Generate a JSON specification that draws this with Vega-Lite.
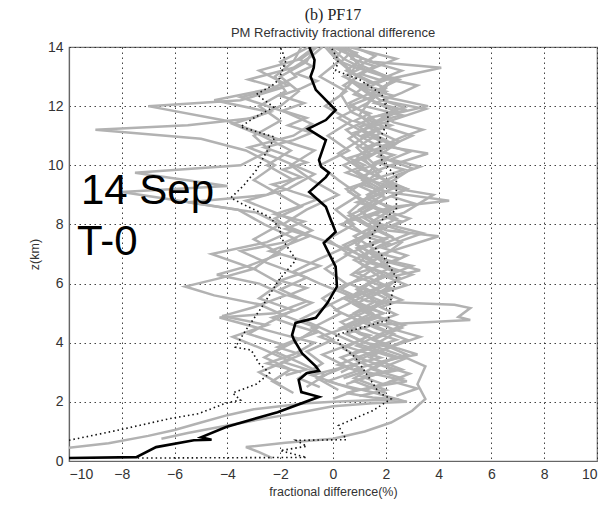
{
  "$schema": "https://vega.github.io/schema/vega-lite/v6.json",
  "width": 528,
  "height": 414,
  "autosize": "none",
  "padding": {"left": 69, "top": 47, "right": 11, "bottom": 47},
  "background": "white",
  "title": {
    "text": "(b) PF17\u00a0\u00a0\u00a0\u00a0\u00a0\u00a0\u00a0\u00a0\u00a0\u00a0\u00a0\u00a0",
    "subtitle": "PM Refractivity fractional difference",
    "font": "Liberation Serif",
    "fontSize": 16,
    "fontWeight": "normal",
    "color": "#222",
    "subtitleFont": "Liberation Sans",
    "subtitleFontSize": 13,
    "subtitleColor": "#333",
    "subtitlePadding": 4,
    "anchor": "middle",
    "offset": 0
  },
  "config": {
    "view": {"stroke": "#777", "strokeWidth": 1.2},
    "axis": {
      "gridColor": "#222",
      "gridDash": [1.5, 3.5],
      "gridOpacity": 0.85,
      "gridWidth": 1,
      "domainColor": "#666",
      "domainWidth": 1.2,
      "ticks": false,
      "labelFont": "Liberation Sans",
      "labelFontSize": 14,
      "labelColor": "#333",
      "titleFont": "Liberation Sans",
      "titleFontSize": 12.5,
      "titleFontWeight": "normal",
      "titleColor": "#333"
    }
  },
  "datasets": {
    "gray": [
      {"s":"g1","x":-10,"z":0.45},{"s":"g1","x":-8.5,"z":0.6},{"s":"g1","x":-7,"z":0.85},{"s":"g1","x":-6,"z":1.05},{"s":"g1","x":-5,"z":1.3},{"s":"g1","x":-4,"z":1.55},{"s":"g1","x":-3,"z":1.75},{"s":"g1","x":-2,"z":1.85},{"s":"g1","x":-1,"z":1.95},{"s":"g1","x":0,"z":2.0},{"s":"g1","x":1.2,"z":2.05},{"s":"g1","x":2.5,"z":2.08},{"s":"g1","x":1.5,"z":2.15},{"s":"g1","x":0.5,"z":2.3},{"s":"g1","x":1.5,"z":2.5},{"s":"g1","x":2.8,"z":2.7},{"s":"g1","x":1.8,"z":2.9},{"s":"g1","x":0.8,"z":3.1},{"s":"g1","x":2.0,"z":3.4},{"s":"g1","x":3.2,"z":3.6},{"s":"g1","x":2.5,"z":3.8},{"s":"g1","x":1.2,"z":4.0},{"s":"g1","x":0.5,"z":4.3},{"s":"g1","x":1.5,"z":4.6},{"s":"g1","x":0.8,"z":5.0},{"s":"g1","x":1.6,"z":5.4},{"s":"g1","x":0.9,"z":5.8},{"s":"g1","x":1.8,"z":6.2},{"s":"g1","x":1.0,"z":6.7},{"s":"g1","x":1.5,"z":7.2},{"s":"g1","x":0.8,"z":7.6},{"s":"g1","x":1.7,"z":8.0},{"s":"g1","x":1.0,"z":8.5},{"s":"g1","x":1.9,"z":9.0},{"s":"g1","x":1.1,"z":9.5},{"s":"g1","x":1.6,"z":10.0},{"s":"g1","x":0.9,"z":10.6},{"s":"g1","x":1.8,"z":11.1},{"s":"g1","x":1.0,"z":11.7},{"s":"g1","x":1.5,"z":12.3},{"s":"g1","x":0.6,"z":12.9},{"s":"g1","x":0.9,"z":13.5},{"s":"g1","x":0.3,"z":14.0},
      {"s":"g2","x":-6.5,"z":0.75},{"s":"g2","x":-5.5,"z":0.95},{"s":"g2","x":-4,"z":1.2},{"s":"g2","x":-2.5,"z":1.45},{"s":"g2","x":-1.2,"z":1.65},{"s":"g2","x":0,"z":1.85},{"s":"g2","x":1.5,"z":1.95},{"s":"g2","x":2.8,"z":2.0},{"s":"g2","x":1.6,"z":2.3},{"s":"g2","x":0.2,"z":2.6},{"s":"g2","x":-0.8,"z":2.9},{"s":"g2","x":0.5,"z":3.2},{"s":"g2","x":1.8,"z":3.5},{"s":"g2","x":0.4,"z":3.9},{"s":"g2","x":-0.5,"z":4.2},{"s":"g2","x":0.8,"z":4.6},{"s":"g2","x":1.9,"z":5.0},{"s":"g2","x":0.6,"z":5.5},{"s":"g2","x":1.4,"z":6.0},{"s":"g2","x":2.3,"z":6.4},{"s":"g2","x":1.1,"z":6.9},{"s":"g2","x":0.4,"z":7.3},{"s":"g2","x":1.6,"z":7.8},{"s":"g2","x":2.4,"z":8.2},{"s":"g2","x":1.2,"z":8.7},{"s":"g2","x":0.5,"z":9.2},{"s":"g2","x":1.8,"z":9.6},{"s":"g2","x":1.2,"z":10.2},{"s":"g2","x":2.2,"z":10.7},{"s":"g2","x":1.0,"z":11.2},{"s":"g2","x":0.2,"z":11.6},{"s":"g2","x":1.3,"z":12.1},{"s":"g2","x":2.0,"z":12.6},{"s":"g2","x":0.8,"z":13.1},{"s":"g2","x":0.2,"z":13.6},{"s":"g2","x":-0.2,"z":14.0},
      {"s":"g3","x":-2.3,"z":0.1},{"s":"g3","x":-2.8,"z":0.3},{"s":"g3","x":-3.3,"z":0.47},{"s":"g3","x":-1.8,"z":0.62},{"s":"g3","x":0,"z":0.75},{"s":"g3","x":1.2,"z":1.0},{"s":"g3","x":2.2,"z":1.3},{"s":"g3","x":3.0,"z":1.7},{"s":"g3","x":3.5,"z":2.1},{"s":"g3","x":3.2,"z":2.6},{"s":"g3","x":3.5,"z":3.2},{"s":"g3","x":2.5,"z":3.6},{"s":"g3","x":1.5,"z":3.9},{"s":"g3","x":2.3,"z":4.3},{"s":"g3","x":1.5,"z":4.6},{"s":"g3","x":5.2,"z":4.77},{"s":"g3","x":4.75,"z":4.87},{"s":"g3","x":5.2,"z":5.17},{"s":"g3","x":4.6,"z":5.28},{"s":"g3","x":1.3,"z":5.4},{"s":"g3","x":0.3,"z":5.8},{"s":"g3","x":1.2,"z":6.3},{"s":"g3","x":2.0,"z":6.8},{"s":"g3","x":0.9,"z":7.3},{"s":"g3","x":1.5,"z":7.9},{"s":"g3","x":0.6,"z":8.4},{"s":"g3","x":1.4,"z":9.0},{"s":"g3","x":2.2,"z":9.4},{"s":"g3","x":1.0,"z":9.9},{"s":"g3","x":0.2,"z":10.4},{"s":"g3","x":1.1,"z":10.9},{"s":"g3","x":1.9,"z":11.3},{"s":"g3","x":0.7,"z":11.8},{"s":"g3","x":0.3,"z":12.4},{"s":"g3","x":0.9,"z":13.0},{"s":"g3","x":0.1,"z":13.6},{"s":"g3","x":0.4,"z":14.0},
      {"s":"g4","x":-1.5,"z":2.3},{"s":"g4","x":-2.3,"z":2.7},{"s":"g4","x":-1.6,"z":3.1},{"s":"g4","x":-2.6,"z":3.5},{"s":"g4","x":-1.8,"z":3.9},{"s":"g4","x":-3.2,"z":4.3},{"s":"g4","x":-2.4,"z":4.7},{"s":"g4","x":-1.5,"z":5.1},{"s":"g4","x":-2.8,"z":5.5},{"s":"g4","x":-2.0,"z":6.0},{"s":"g4","x":-3.0,"z":6.5},{"s":"g4","x":-2.2,"z":7.0},{"s":"g4","x":-1.4,"z":7.5},{"s":"g4","x":-2.6,"z":8.0},{"s":"g4","x":-3.6,"z":8.5},{"s":"g4","x":-8.0,"z":9.1},{"s":"g4","x":-4.0,"z":9.3},{"s":"g4","x":-7.5,"z":9.75},{"s":"g4","x":-3.5,"z":10.0},{"s":"g4","x":-2.4,"z":10.5},{"s":"g4","x":-3.0,"z":11.0},{"s":"g4","x":-2.0,"z":11.5},{"s":"g4","x":-2.8,"z":12.0},{"s":"g4","x":-1.8,"z":12.5},{"s":"g4","x":-2.2,"z":13.0},{"s":"g4","x":-1.5,"z":13.5},{"s":"g4","x":-1.2,"z":14.0},
      {"s":"g5","x":-1.0,"z":2.5},{"s":"g5","x":-0.3,"z":2.9},{"s":"g5","x":-1.2,"z":3.3},{"s":"g5","x":-2.2,"z":3.7},{"s":"g5","x":-1.3,"z":4.1},{"s":"g5","x":-0.6,"z":4.5},{"s":"g5","x":-1.8,"z":4.9},{"s":"g5","x":-2.8,"z":5.3},{"s":"g5","x":-4.5,"z":5.6},{"s":"g5","x":-5.6,"z":5.9},{"s":"g5","x":-4.2,"z":6.2},{"s":"g5","x":-3.0,"z":6.5},{"s":"g5","x":-4.6,"z":7.0},{"s":"g5","x":-2.5,"z":7.4},{"s":"g5","x":-1.5,"z":7.8},{"s":"g5","x":-2.2,"z":8.2},{"s":"g5","x":-1.2,"z":8.6},{"s":"g5","x":-2.0,"z":9.0},{"s":"g5","x":-3.0,"z":9.5},{"s":"g5","x":-2.2,"z":10.0},{"s":"g5","x":-3.3,"z":10.5},{"s":"g5","x":-5.0,"z":10.9},{"s":"g5","x":-9.0,"z":11.2},{"s":"g5","x":-5.5,"z":11.35},{"s":"g5","x":-3.0,"z":11.6},{"s":"g5","x":-2.0,"z":12.0},{"s":"g5","x":-1.3,"z":12.5},{"s":"g5","x":-2.0,"z":13.0},{"s":"g5","x":-1.0,"z":13.5},{"s":"g5","x":-0.7,"z":14.0},
      {"s":"g6","x":0.2,"z":2.4},{"s":"g6","x":-0.6,"z":2.8},{"s":"g6","x":0.5,"z":3.2},{"s":"g6","x":-0.4,"z":3.6},{"s":"g6","x":0.8,"z":4.0},{"s":"g6","x":-0.2,"z":4.4},{"s":"g6","x":-1.2,"z":4.8},{"s":"g6","x":-0.3,"z":5.2},{"s":"g6","x":0.6,"z":5.6},{"s":"g6","x":-0.5,"z":6.0},{"s":"g6","x":-1.5,"z":6.4},{"s":"g6","x":-0.6,"z":6.8},{"s":"g6","x":0.4,"z":7.2},{"s":"g6","x":-0.8,"z":7.6},{"s":"g6","x":-1.9,"z":8.0},{"s":"g6","x":-1.0,"z":8.5},{"s":"g6","x":0.2,"z":9.0},{"s":"g6","x":-0.8,"z":9.5},{"s":"g6","x":-1.6,"z":10.0},{"s":"g6","x":-0.7,"z":10.5},{"s":"g6","x":-2.5,"z":11.0},{"s":"g6","x":-4.0,"z":11.5},{"s":"g6","x":-7.0,"z":12.0},{"s":"g6","x":-3.5,"z":12.2},{"s":"g6","x":-2.0,"z":12.6},{"s":"g6","x":-3.2,"z":12.9},{"s":"g6","x":-1.5,"z":13.3},{"s":"g6","x":-0.8,"z":13.7},{"s":"g6","x":-0.4,"z":14.0},
      {"s":"g7","x":0.5,"z":2.6},{"s":"g7","x":1.5,"z":2.9},{"s":"g7","x":2.6,"z":3.1},{"s":"g7","x":1.4,"z":3.5},{"s":"g7","x":2.2,"z":3.9},{"s":"g7","x":1.0,"z":4.3},{"s":"g7","x":0.3,"z":4.7},{"s":"g7","x":1.4,"z":5.1},{"s":"g7","x":2.2,"z":5.5},{"s":"g7","x":1.3,"z":6.0},{"s":"g7","x":3.0,"z":6.6},{"s":"g7","x":1.5,"z":6.9},{"s":"g7","x":4.0,"z":7.6},{"s":"g7","x":2.0,"z":7.8},{"s":"g7","x":1.2,"z":8.2},{"s":"g7","x":2.3,"z":8.6},{"s":"g7","x":4.4,"z":8.8},{"s":"g7","x":2.0,"z":9.1},{"s":"g7","x":1.0,"z":9.6},{"s":"g7","x":2.2,"z":10.0},{"s":"g7","x":3.6,"z":10.4},{"s":"g7","x":1.6,"z":10.7},{"s":"g7","x":0.8,"z":11.1},{"s":"g7","x":3.5,"z":11.9},{"s":"g7","x":1.8,"z":12.2},{"s":"g7","x":1.0,"z":12.7},{"s":"g7","x":4.1,"z":13.3},{"s":"g7","x":1.5,"z":13.5},{"s":"g7","x":0.5,"z":13.8},{"s":"g7","x":0.1,"z":14.0},
      {"s":"g8","x":1.0,"z":2.2},{"s":"g8","x":2.0,"z":2.4},{"s":"g8","x":0.8,"z":2.8},{"s":"g8","x":1.8,"z":3.3},{"s":"g8","x":2.8,"z":3.6},{"s":"g8","x":1.5,"z":4.1},{"s":"g8","x":2.6,"z":4.5},{"s":"g8","x":1.6,"z":4.9},{"s":"g8","x":0.8,"z":5.3},{"s":"g8","x":1.8,"z":5.7},{"s":"g8","x":2.5,"z":6.2},{"s":"g8","x":1.2,"z":6.6},{"s":"g8","x":2.0,"z":7.0},{"s":"g8","x":2.6,"z":7.4},{"s":"g8","x":1.4,"z":7.9},{"s":"g8","x":0.6,"z":8.3},{"s":"g8","x":1.8,"z":8.8},{"s":"g8","x":2.8,"z":9.2},{"s":"g8","x":1.5,"z":9.7},{"s":"g8","x":0.8,"z":10.1},{"s":"g8","x":2.0,"z":10.6},{"s":"g8","x":3.0,"z":11.0},{"s":"g8","x":1.6,"z":11.4},{"s":"g8","x":2.4,"z":11.8},{"s":"g8","x":1.2,"z":12.3},{"s":"g8","x":0.4,"z":12.7},{"s":"g8","x":1.3,"z":13.2},{"s":"g8","x":2.4,"z":13.6},{"s":"g8","x":0.6,"z":14.0},
      {"s":"g9","x":-0.5,"z":2.5},{"s":"g9","x":-1.3,"z":2.8},{"s":"g9","x":-0.4,"z":3.3},{"s":"g9","x":-1.0,"z":3.7},{"s":"g9","x":0.0,"z":4.1},{"s":"g9","x":-0.8,"z":4.5},{"s":"g9","x":0.3,"z":5.0},{"s":"g9","x":-0.4,"z":5.5},{"s":"g9","x":0.5,"z":6.0},{"s":"g9","x":-0.3,"z":6.5},{"s":"g9","x":0.6,"z":7.0},{"s":"g9","x":-0.2,"z":7.5},{"s":"g9","x":0.8,"z":8.0},{"s":"g9","x":0.1,"z":8.5},{"s":"g9","x":1.0,"z":9.0},{"s":"g9","x":0.2,"z":9.5},{"s":"g9","x":-0.5,"z":10.0},{"s":"g9","x":0.6,"z":10.5},{"s":"g9","x":-0.2,"z":11.0},{"s":"g9","x":0.7,"z":11.5},{"s":"g9","x":-0.3,"z":12.0},{"s":"g9","x":0.5,"z":12.5},{"s":"g9","x":-0.5,"z":13.0},{"s":"g9","x":0.2,"z":13.5},{"s":"g9","x":-0.3,"z":14.0},
      {"s":"g10","x":2.0,"z":2.3},{"s":"g10","x":0.8,"z":2.7},{"s":"g10","x":1.9,"z":3.0},{"s":"g10","x":0.9,"z":3.4},{"s":"g10","x":2.0,"z":3.8},{"s":"g10","x":2.8,"z":4.1},{"s":"g10","x":1.6,"z":4.5},{"s":"g10","x":0.6,"z":4.9},{"s":"g10","x":1.7,"z":5.3},{"s":"g10","x":1.0,"z":5.8},{"s":"g10","x":1.9,"z":6.3},{"s":"g10","x":0.8,"z":6.8},{"s":"g10","x":1.8,"z":7.3},{"s":"g10","x":2.9,"z":7.7},{"s":"g10","x":1.5,"z":8.1},{"s":"g10","x":2.2,"z":8.5},{"s":"g10","x":1.3,"z":9.0},{"s":"g10","x":2.3,"z":9.5},{"s":"g10","x":3.0,"z":9.9},{"s":"g10","x":1.7,"z":10.3},{"s":"g10","x":2.5,"z":10.8},{"s":"g10","x":1.3,"z":11.3},{"s":"g10","x":2.1,"z":11.7},{"s":"g10","x":3.6,"z":12.0},{"s":"g10","x":1.5,"z":12.4},{"s":"g10","x":2.3,"z":12.9},{"s":"g10","x":1.0,"z":13.4},{"s":"g10","x":0.3,"z":14.0},
      {"s":"g11","x":-2.0,"z":2.6},{"s":"g11","x":-2.8,"z":3.0},{"s":"g11","x":-1.7,"z":3.4},{"s":"g11","x":-2.7,"z":3.8},{"s":"g11","x":-3.8,"z":4.2},{"s":"g11","x":-2.5,"z":4.6},{"s":"g11","x":-4.2,"z":4.9},{"s":"g11","x":-3.0,"z":5.2},{"s":"g11","x":-1.8,"z":5.6},{"s":"g11","x":-2.8,"z":6.0},{"s":"g11","x":-4.4,"z":6.3},{"s":"g11","x":-3.2,"z":6.6},{"s":"g11","x":-2.0,"z":7.0},{"s":"g11","x":-3.0,"z":7.5},{"s":"g11","x":-2.0,"z":8.0},{"s":"g11","x":-2.9,"z":8.4},{"s":"g11","x":-5.5,"z":8.75},{"s":"g11","x":-2.5,"z":9.0},{"s":"g11","x":-1.5,"z":9.5},{"s":"g11","x":-2.5,"z":10.0},{"s":"g11","x":-1.6,"z":10.5},{"s":"g11","x":-2.7,"z":11.0},{"s":"g11","x":-3.8,"z":11.4},{"s":"g11","x":-2.4,"z":11.8},{"s":"g11","x":-4.5,"z":12.2},{"s":"g11","x":-2.3,"z":12.6},{"s":"g11","x":-1.4,"z":13.0},{"s":"g11","x":-2.0,"z":13.5},{"s":"g11","x":-0.9,"z":14.0},
      {"s":"g12","x":1.5,"z":2.5},{"s":"g12","x":2.6,"z":2.8},{"s":"g12","x":1.5,"z":3.1},{"s":"g12","x":2.3,"z":3.5},{"s":"g12","x":0.9,"z":3.9},{"s":"g12","x":1.8,"z":4.3},{"s":"g12","x":2.7,"z":4.6},{"s":"g12","x":1.3,"z":5.0},{"s":"g12","x":2.0,"z":5.5},{"s":"g12","x":1.1,"z":5.9},{"s":"g12","x":2.4,"z":6.4},{"s":"g12","x":1.6,"z":6.9},{"s":"g12","x":0.8,"z":7.4},{"s":"g12","x":1.9,"z":7.9},{"s":"g12","x":1.1,"z":8.4},{"s":"g12","x":2.0,"z":8.9},{"s":"g12","x":1.0,"z":9.3},{"s":"g12","x":1.8,"z":9.8},{"s":"g12","x":0.9,"z":10.3},{"s":"g12","x":1.8,"z":10.8},{"s":"g12","x":1.0,"z":11.3},{"s":"g12","x":2.6,"z":11.7},{"s":"g12","x":1.2,"z":12.0},{"s":"g12","x":1.8,"z":12.5},{"s":"g12","x":2.3,"z":12.9},{"s":"g12","x":0.9,"z":13.3},{"s":"g12","x":1.6,"z":13.7},{"s":"g12","x":0.8,"z":14.0},
      {"s":"g13","x":0.3,"z":3.0},{"s":"g13","x":1.2,"z":3.4},{"s":"g13","x":0.4,"z":3.8},{"s":"g13","x":1.3,"z":4.2},{"s":"g13","x":0.5,"z":4.6},{"s":"g13","x":1.5,"z":5.0},{"s":"g13","x":0.7,"z":5.5},{"s":"g13","x":1.8,"z":5.9},{"s":"g13","x":3.0,"z":6.3},{"s":"g13","x":1.6,"z":6.7},{"s":"g13","x":0.9,"z":7.2},{"s":"g13","x":2.2,"z":7.6},{"s":"g13","x":1.3,"z":8.0},{"s":"g13","x":2.7,"z":8.4},{"s":"g13","x":3.8,"z":9.0},{"s":"g13","x":1.8,"z":9.3},{"s":"g13","x":0.9,"z":9.8},{"s":"g13","x":2.1,"z":10.2},{"s":"g13","x":1.2,"z":10.7},{"s":"g13","x":0.5,"z":11.2},{"s":"g13","x":1.5,"z":11.6},{"s":"g13","x":0.6,"z":12.1},{"s":"g13","x":1.8,"z":12.6},{"s":"g13","x":2.5,"z":12.9},{"s":"g13","x":1.3,"z":13.2},{"s":"g13","x":0.4,"z":13.6},{"s":"g13","x":-0.1,"z":14.0},
      {"s":"g14","x":-1.2,"z":3.0},{"s":"g14","x":-2.5,"z":3.3},{"s":"g14","x":-1.5,"z":3.6},{"s":"g14","x":-0.7,"z":4.0},{"s":"g14","x":-2.0,"z":4.3},{"s":"g14","x":-4.3,"z":4.85},{"s":"g14","x":-2.2,"z":5.0},{"s":"g14","x":-1.0,"z":5.4},{"s":"g14","x":-2.0,"z":5.8},{"s":"g14","x":-1.0,"z":6.2},{"s":"g14","x":-2.5,"z":6.7},{"s":"g14","x":-3.5,"z":7.1},{"s":"g14","x":-1.8,"z":7.4},{"s":"g14","x":-0.8,"z":7.8},{"s":"g14","x":-1.9,"z":8.3},{"s":"g14","x":-3.3,"z":8.8},{"s":"g14","x":-1.7,"z":9.2},{"s":"g14","x":-0.7,"z":9.7},{"s":"g14","x":-2.0,"z":10.2},{"s":"g14","x":-3.2,"z":10.6},{"s":"g14","x":-1.5,"z":11.0},{"s":"g14","x":-0.8,"z":11.4},{"s":"g14","x":-1.8,"z":11.8},{"s":"g14","x":-3.5,"z":12.3},{"s":"g14","x":-1.7,"z":12.7},{"s":"g14","x":-2.8,"z":13.2},{"s":"g14","x":-1.2,"z":13.6},{"s":"g14","x":-0.6,"z":14.0},
      {"s":"g15","x":0.0,"z":2.1},{"s":"g15","x":0.9,"z":2.4},{"s":"g15","x":-0.2,"z":2.7},{"s":"g15","x":1.1,"z":3.1},{"s":"g15","x":0.3,"z":3.5},{"s":"g15","x":1.5,"z":3.9},{"s":"g15","x":0.5,"z":4.3},{"s":"g15","x":1.1,"z":4.7},{"s":"g15","x":0.1,"z":5.1},{"s":"g15","x":1.0,"z":5.5},{"s":"g15","x":1.9,"z":5.9},{"s":"g15","x":0.7,"z":6.3},{"s":"g15","x":1.5,"z":6.8},{"s":"g15","x":0.4,"z":7.2},{"s":"g15","x":1.3,"z":7.6},{"s":"g15","x":0.5,"z":8.1},{"s":"g15","x":1.6,"z":8.6},{"s":"g15","x":0.6,"z":9.1},{"s":"g15","x":1.3,"z":9.5},{"s":"g15","x":0.4,"z":10.0},{"s":"g15","x":1.4,"z":10.4},{"s":"g15","x":0.6,"z":10.9},{"s":"g15","x":1.5,"z":11.4},{"s":"g15","x":2.4,"z":11.9},{"s":"g15","x":0.8,"z":12.4},{"s":"g15","x":1.4,"z":12.8},{"s":"g15","x":0.5,"z":13.2},{"s":"g15","x":1.1,"z":13.6},{"s":"g15","x":0.5,"z":14.0},
      {"s":"g16","x":1.2,"z":2.4},{"s":"g16","x":1.9,"z":2.6},{"s":"g16","x":1.1,"z":2.85},{"s":"g16","x":2.3,"z":3.1},{"s":"g16","x":1.4,"z":3.35},{"s":"g16","x":0.7,"z":3.6},{"s":"g16","x":1.6,"z":3.85},{"s":"g16","x":2.4,"z":4.1},{"s":"g16","x":1.5,"z":4.35},{"s":"g16","x":0.9,"z":4.6},{"s":"g16","x":1.7,"z":4.85},{"s":"g16","x":1.1,"z":5.1},{"s":"g16","x":2.0,"z":5.35},{"s":"g16","x":1.3,"z":5.6},{"s":"g16","x":2.2,"z":5.85},{"s":"g16","x":1.6,"z":6.1},{"s":"g16","x":0.9,"z":6.35},{"s":"g16","x":1.8,"z":6.6},{"s":"g16","x":2.5,"z":6.85},{"s":"g16","x":1.4,"z":7.1},{"s":"g16","x":2.1,"z":7.35},{"s":"g16","x":1.2,"z":7.6},{"s":"g16","x":1.9,"z":7.85},{"s":"g16","x":2.6,"z":8.1},{"s":"g16","x":1.5,"z":8.35},{"s":"g16","x":2.2,"z":8.6},{"s":"g16","x":1.3,"z":8.85},{"s":"g16","x":2.0,"z":9.1},{"s":"g16","x":1.1,"z":9.35},{"s":"g16","x":1.8,"z":9.6},{"s":"g16","x":2.7,"z":9.85},{"s":"g16","x":1.6,"z":10.1},{"s":"g16","x":2.3,"z":10.35},{"s":"g16","x":1.2,"z":10.6},{"s":"g16","x":2.0,"z":10.85},{"s":"g16","x":1.4,"z":11.1},{"s":"g16","x":2.2,"z":11.35},{"s":"g16","x":1.3,"z":11.6},{"s":"g16","x":2.8,"z":11.85},{"s":"g16","x":1.6,"z":12.1},{"s":"g16","x":2.3,"z":12.35},{"s":"g16","x":1.2,"z":12.6},{"s":"g16","x":1.9,"z":12.85},{"s":"g16","x":1.0,"z":13.1},{"s":"g16","x":1.6,"z":13.35},{"s":"g16","x":0.7,"z":13.6},{"s":"g16","x":0.9,"z":13.8},{"s":"g16","x":0.2,"z":14.0},
      {"s":"g17","x":0.4,"z":2.8},{"s":"g17","x":1.1,"z":3.0},{"s":"g17","x":0.2,"z":3.25},{"s":"g17","x":0.9,"z":3.5},{"s":"g17","x":1.7,"z":3.75},{"s":"g17","x":0.8,"z":4.0},{"s":"g17","x":1.4,"z":4.25},{"s":"g17","x":0.3,"z":4.5},{"s":"g17","x":1.0,"z":4.75},{"s":"g17","x":1.9,"z":5.0},{"s":"g17","x":1.0,"z":5.25},{"s":"g17","x":0.4,"z":5.5},{"s":"g17","x":1.3,"z":5.75},{"s":"g17","x":0.6,"z":6.0},{"s":"g17","x":1.5,"z":6.25},{"s":"g17","x":2.1,"z":6.5},{"s":"g17","x":1.2,"z":6.75},{"s":"g17","x":0.5,"z":7.0},{"s":"g17","x":1.3,"z":7.25},{"s":"g17","x":2.0,"z":7.5},{"s":"g17","x":1.0,"z":7.75},{"s":"g17","x":0.3,"z":8.0},{"s":"g17","x":1.1,"z":8.25},{"s":"g17","x":1.9,"z":8.5},{"s":"g17","x":0.9,"z":8.75},{"s":"g17","x":1.6,"z":9.0},{"s":"g17","x":2.4,"z":9.25},{"s":"g17","x":1.3,"z":9.5},{"s":"g17","x":0.5,"z":9.75},{"s":"g17","x":1.2,"z":10.0},{"s":"g17","x":0.6,"z":10.25},{"s":"g17","x":1.5,"z":10.5},{"s":"g17","x":2.3,"z":10.75},{"s":"g17","x":1.1,"z":11.0},{"s":"g17","x":1.7,"z":11.25},{"s":"g17","x":0.8,"z":11.5},{"s":"g17","x":1.4,"z":11.75},{"s":"g17","x":0.6,"z":12.0},{"s":"g17","x":1.3,"z":12.25},{"s":"g17","x":2.0,"z":12.5},{"s":"g17","x":1.0,"z":12.75},{"s":"g17","x":0.4,"z":13.0},{"s":"g17","x":1.0,"z":13.25},{"s":"g17","x":0.3,"z":13.5},{"s":"g17","x":0.6,"z":13.75},{"s":"g17","x":0.0,"z":14.0},
      {"s":"g18","x":-1.8,"z":2.9},{"s":"g18","x":-1.0,"z":3.1},{"s":"g18","x":-1.9,"z":3.35},{"s":"g18","x":-1.2,"z":3.6},{"s":"g18","x":-2.1,"z":3.85},{"s":"g18","x":-1.4,"z":4.1},{"s":"g18","x":-0.6,"z":4.35},{"s":"g18","x":-1.5,"z":4.6},{"s":"g18","x":-2.3,"z":4.85},{"s":"g18","x":-1.4,"z":5.1},{"s":"g18","x":-0.8,"z":5.35},{"s":"g18","x":-1.7,"z":5.6},{"s":"g18","x":-1.0,"z":5.85},{"s":"g18","x":-2.0,"z":6.1},{"s":"g18","x":-1.2,"z":6.35},{"s":"g18","x":-0.5,"z":6.6},{"s":"g18","x":-1.4,"z":6.85},{"s":"g18","x":-2.4,"z":7.1},{"s":"g18","x":-1.6,"z":7.35},{"s":"g18","x":-0.9,"z":7.6},{"s":"g18","x":-1.8,"z":7.85},{"s":"g18","x":-1.1,"z":8.1},{"s":"g18","x":-2.2,"z":8.35},{"s":"g18","x":-1.3,"z":8.6},{"s":"g18","x":-0.6,"z":8.85},{"s":"g18","x":-1.5,"z":9.1},{"s":"g18","x":-2.3,"z":9.35},{"s":"g18","x":-1.2,"z":9.6},{"s":"g18","x":-1.9,"z":9.85},{"s":"g18","x":-1.0,"z":10.1},{"s":"g18","x":-1.8,"z":10.35},{"s":"g18","x":-2.6,"z":10.6},{"s":"g18","x":-1.5,"z":10.85},{"s":"g18","x":-0.8,"z":11.1},{"s":"g18","x":-1.7,"z":11.35},{"s":"g18","x":-1.0,"z":11.6},{"s":"g18","x":-1.9,"z":11.85},{"s":"g18","x":-1.1,"z":12.1},{"s":"g18","x":-2.0,"z":12.35},{"s":"g18","x":-1.2,"z":12.6},{"s":"g18","x":-0.6,"z":12.85},{"s":"g18","x":-1.4,"z":13.1},{"s":"g18","x":-0.8,"z":13.35},{"s":"g18","x":-1.3,"z":13.6},{"s":"g18","x":-0.7,"z":14.0},
      {"s":"g19","x":2.4,"z":2.2},{"s":"g19","x":3.2,"z":2.45},{"s":"g19","x":2.2,"z":2.7},{"s":"g19","x":2.9,"z":2.95},{"s":"g19","x":2.0,"z":3.2},{"s":"g19","x":2.7,"z":3.45},{"s":"g19","x":1.8,"z":3.7},{"s":"g19","x":2.5,"z":3.95},{"s":"g19","x":3.3,"z":4.2},{"s":"g19","x":2.3,"z":4.45},{"s":"g19","x":1.6,"z":4.7},{"s":"g19","x":2.4,"z":4.95},{"s":"g19","x":1.8,"z":5.2},{"s":"g19","x":2.6,"z":5.45},{"s":"g19","x":1.9,"z":5.7},{"s":"g19","x":2.8,"z":5.95},{"s":"g19","x":2.1,"z":6.2},{"s":"g19","x":3.3,"z":6.45},{"s":"g19","x":2.2,"z":6.7},{"s":"g19","x":2.8,"z":6.95},{"s":"g19","x":1.9,"z":7.2},{"s":"g19","x":2.6,"z":7.45},{"s":"g19","x":3.4,"z":7.7},{"s":"g19","x":2.3,"z":7.95},{"s":"g19","x":2.9,"z":8.2},{"s":"g19","x":2.0,"z":8.45},{"s":"g19","x":3.1,"z":8.7},{"s":"g19","x":2.2,"z":8.95},{"s":"g19","x":2.8,"z":9.2},{"s":"g19","x":1.9,"z":9.45},{"s":"g19","x":2.5,"z":9.7},{"s":"g19","x":3.3,"z":9.95},{"s":"g19","x":2.2,"z":10.2},{"s":"g19","x":2.9,"z":10.45},{"s":"g19","x":2.0,"z":10.7},{"s":"g19","x":2.6,"z":10.95},{"s":"g19","x":3.4,"z":11.2},{"s":"g19","x":2.3,"z":11.45},{"s":"g19","x":1.8,"z":11.7},{"s":"g19","x":2.7,"z":11.95},{"s":"g19","x":1.9,"z":12.2},{"s":"g19","x":2.6,"z":12.45},{"s":"g19","x":3.2,"z":12.7},{"s":"g19","x":1.9,"z":12.95},{"s":"g19","x":2.6,"z":13.2},{"s":"g19","x":1.4,"z":13.5},{"s":"g19","x":0.8,"z":13.75},{"s":"g19","x":0.4,"z":14.0}
    ],
    "std": [
      {"s":"lo","x":-10,"z":0.7},{"s":"lo","x":-8.1,"z":1.05},{"s":"lo","x":-6.1,"z":1.45},{"s":"lo","x":-5.1,"z":1.6},{"s":"lo","x":-4.05,"z":1.96},{"s":"lo","x":-3.5,"z":2.06},{"s":"lo","x":-3.8,"z":2.3},{"s":"lo","x":-2.9,"z":2.6},{"s":"lo","x":-2.4,"z":2.97},{"s":"lo","x":-2.8,"z":3.3},{"s":"lo","x":-3.1,"z":3.75},{"s":"lo","x":-3.7,"z":3.85},{"s":"lo","x":-3.3,"z":4.43},{"s":"lo","x":-2.7,"z":5.2},{"s":"lo","x":-2.05,"z":6.12},{"s":"lo","x":-1.4,"z":6.8},{"s":"lo","x":-1.9,"z":7.47},{"s":"lo","x":-2.05,"z":7.9},{"s":"lo","x":-2.4,"z":8.25},{"s":"lo","x":-3.45,"z":8.7},{"s":"lo","x":-3.87,"z":8.9},{"s":"lo","x":-3.4,"z":9.3},{"s":"lo","x":-2.9,"z":9.84},{"s":"lo","x":-2.55,"z":10.4},{"s":"lo","x":-2.2,"z":10.95},{"s":"lo","x":-3.5,"z":11.3},{"s":"lo","x":-3.0,"z":11.6},{"s":"lo","x":-2.25,"z":11.97},{"s":"lo","x":-2.9,"z":12.4},{"s":"lo","x":-2.3,"z":12.7},{"s":"lo","x":-2.05,"z":12.9},{"s":"lo","x":-1.8,"z":13.5},{"s":"lo","x":-1.9,"z":13.8},{"s":"lo","x":-2.0,"z":14.0},
      {"s":"hi","x":-7.4,"z":0.1},{"s":"hi","x":-1.0,"z":0.12},{"s":"hi","x":-2.0,"z":0.35},{"s":"hi","x":-1.0,"z":0.5},{"s":"hi","x":-1.4,"z":0.7},{"s":"hi","x":0.5,"z":0.72},{"s":"hi","x":0.2,"z":1.2},{"s":"hi","x":1.5,"z":1.7},{"s":"hi","x":2.2,"z":2.1},{"s":"hi","x":1.75,"z":2.3},{"s":"hi","x":1.25,"z":2.97},{"s":"hi","x":0.85,"z":3.5},{"s":"hi","x":0.3,"z":3.9},{"s":"hi","x":0.1,"z":4.26},{"s":"hi","x":2.1,"z":4.77},{"s":"hi","x":2.2,"z":5.5},{"s":"hi","x":2.4,"z":6.2},{"s":"hi","x":2.0,"z":6.8},{"s":"hi","x":1.35,"z":7.47},{"s":"hi","x":1.85,"z":8.15},{"s":"hi","x":2.4,"z":8.5},{"s":"hi","x":2.4,"z":9.6},{"s":"hi","x":1.85,"z":10.18},{"s":"hi","x":1.75,"z":10.85},{"s":"hi","x":2.1,"z":11.53},{"s":"hi","x":2.0,"z":12.0},{"s":"hi","x":1.85,"z":12.4},{"s":"hi","x":1.0,"z":12.9},{"s":"hi","x":0.1,"z":13.2},{"s":"hi","x":0.2,"z":13.56},{"s":"hi","x":-0.08,"z":14.0}
    ],
    "mean": [
      {"x":-10,"z":0.1},{"x":-7.45,"z":0.13},{"x":-6.7,"z":0.47},{"x":-5.27,"z":0.7},{"x":-4.6,"z":0.72},{"x":-5.0,"z":0.8},{"x":-4.05,"z":1.15},{"x":-2.1,"z":1.65},{"x":-0.53,"z":2.17},{"x":-1.2,"z":2.33},{"x":-1.3,"z":2.74},{"x":-1.0,"z":2.97},{"x":-0.53,"z":3.05},{"x":-0.65,"z":3.2},{"x":-1.17,"z":3.64},{"x":-1.48,"z":4.1},{"x":-1.55,"z":4.26},{"x":-1.42,"z":4.67},{"x":-0.65,"z":4.84},{"x":-0.22,"z":5.33},{"x":0.15,"z":5.9},{"x":0.1,"z":6.57},{"x":-0.35,"z":7.37},{"x":0.1,"z":7.75},{"x":-0.08,"z":8.15},{"x":-0.27,"z":8.6},{"x":-0.9,"z":9.1},{"x":-0.27,"z":9.6},{"x":-0.15,"z":9.75},{"x":-0.45,"z":9.95},{"x":-0.53,"z":10.18},{"x":-0.27,"z":10.85},{"x":-0.95,"z":11.23},{"x":-0.27,"z":11.53},{"x":0.1,"z":11.87},{"x":-0.65,"z":12.55},{"x":-0.85,"z":13.0},{"x":-0.73,"z":13.3},{"x":-0.7,"z":13.56},{"x":-0.9,"z":14.0}
    ],
    "notes": [
      {"x":-9.55,"z":8.69,"t":"14 Sep"},
      {"x":-9.7,"z":6.97,"t":"T-0"}
    ]
  },
  "encoding": {
    "x": {
      "field": "x", "type": "quantitative",
      "scale": {"domain": [-10, 10], "nice": false, "zero": false},
      "axis": {"values": [-10,-8,-6,-4,-2,0,2,4,6,8,10], "title": "fractional difference(%)", "labelPadding": 6, "titlePadding": 4}
    },
    "y": {
      "field": "z", "type": "quantitative",
      "scale": {"domain": [0, 14], "nice": false, "zero": false},
      "axis": {"values": [0,2,4,6,8,10,12,14], "title": "z(km)", "labelPadding": 6, "titlePadding": 6}
    }
  },
  "layer": [
    {
      "data": {"name": "gray"},
      "mark": {"type": "line", "color": "#b2b2b2", "strokeWidth": 2.5, "clip": true},
      "encoding": {"detail": {"field": "s"}, "order": {"field": "z", "type": "quantitative"}}
    },
    {
      "data": {"name": "std"},
      "mark": {"type": "line", "color": "#111", "strokeWidth": 1.6, "strokeDash": [1.5, 3], "clip": true},
      "encoding": {"detail": {"field": "s"}, "order": {"field": "z", "type": "quantitative"}}
    },
    {
      "data": {"name": "mean"},
      "mark": {"type": "line", "color": "#000", "strokeWidth": 2.6, "clip": true},
      "encoding": {"order": {"field": "z", "type": "quantitative"}}
    },
    {
      "data": {"name": "notes"},
      "mark": {"type": "text", "align": "left", "baseline": "alphabetic", "font": "Liberation Sans", "fontSize": 42, "color": "#000"},
      "encoding": {"text": {"field": "t"}}
    }
  ]
}
